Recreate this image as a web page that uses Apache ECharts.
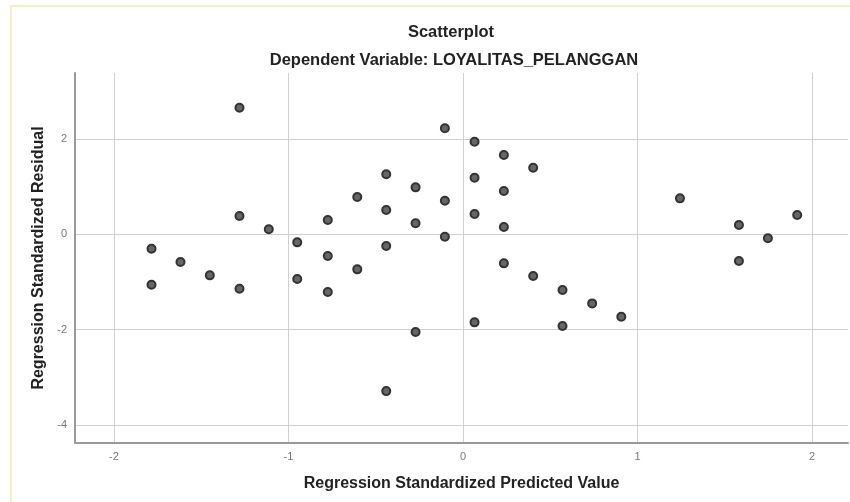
<!DOCTYPE html>
<html>
<head>
<meta charset="utf-8">
<script src="https://cdn.jsdelivr.net/npm/echarts@6/dist/echarts.min.js"></script>
<style>
html,body{margin:0;padding:0;background:#fff;}
#frame{position:absolute;left:10px;top:5px;width:850px;height:510px;border-left:2px solid #f6eec4;border-top:2px solid #f6eec4;box-sizing:border-box;}
#chart{position:absolute;left:0;top:0;width:850px;height:502px;}
</style>
</head>
<body>
<div id="frame"></div>
<div id="chart"></div>
<script>
const titleText = 'Scatterplot';
const subtitleText = 'Dependent Variable: LOYALITAS_PELANGGAN';
const xAxisName = 'Regression Standardized Predicted Value';
const yAxisName = 'Regression Standardized Residual';
const xTicks = [-2, -1, 0, 1, 2];
const yTicks = [-4, -2, 0, 2];
const predicted = [
  -1.785, -1.785, -1.619, -1.451, -1.281, -1.281, -1.281, -1.113,
  -0.950, -0.950,
  -0.775, -0.775, -0.775,
  -0.606, -0.606,
  -0.440, -0.440, -0.440, -0.440,
  -0.272, -0.272, -0.272,
  -0.104, -0.104, -0.104,
  0.066, 0.066, 0.066, 0.066,
  0.234, 0.234, 0.234, 0.234,
  0.402, 0.402,
  0.570, 0.570,
  0.740, 0.907,
  1.243, 1.581, 1.581, 1.747, 1.915
];
const residual = [
  -0.302, -1.057, -0.581, -0.861, 2.657, 0.384, -1.141, 0.105,
  -0.168, -0.938,
  0.300, -0.455, -1.211,
  0.783, -0.735,
  1.259, 0.510, -0.246, -3.289,
  0.986, 0.231, -2.050,
  2.225, 0.705, -0.050,
  1.944, 1.188, 0.426, -1.847,
  1.664, 0.909, 0.153, -0.609,
  1.398, -0.875,
  -1.169, -1.924,
  -1.449, -1.728,
  0.755, 0.195, -0.560, -0.084, 0.405
];
const points = predicted.map((x, i) => [x, residual[i]]);

const chart = echarts.init(document.getElementById('chart'), null, {renderer: 'canvas'});
const fontFam = '"Liberation Sans", Arial, sans-serif';
chart.setOption({
  animation: false,
  backgroundColor: 'transparent',
  title: [
    {text: titleText, left: 446, top: 19, textAlign: 'center',
     textStyle: {fontFamily: fontFam, fontSize: 16.5, fontWeight: 'bold', color: '#222'}},
    {text: subtitleText, left: 449, top: 47, textAlign: 'center',
     textStyle: {fontFamily: fontFam, fontSize: 16.5, fontWeight: 'bold', color: '#222'}}
  ],
  grid: {left: 75, top: 73, right: 2, bottom: 59, containLabel: false},
  xAxis: {
    type: 'value', min: -2.2235, max: 2.206,
    name: xAxisName, nameLocation: 'middle', nameGap: 33,
    nameTextStyle: {fontFamily: fontFam, fontSize: 16, fontWeight: 'bold', color: '#222'},
    axisLine: {show: true, onZero: false, lineStyle: {color: '#9a9a9a', width: 2}},
    axisTick: {show: false, customValues: xTicks},
    axisLabel: {customValues: xTicks, color: '#777', fontSize: 11, fontFamily: fontFam, margin: 8},
    splitLine: {show: true, lineStyle: {color: '#d0d0d0', width: 1}}
  },
  yAxis: {
    type: 'value', min: -4.378, max: 3.385,
    name: yAxisName, nameLocation: 'middle', nameGap: 28, nameRotate: 90,
    nameTextStyle: {fontFamily: fontFam, fontSize: 16, fontWeight: 'bold', color: '#222'},
    axisLine: {show: true, onZero: false, lineStyle: {color: '#9a9a9a', width: 2}},
    axisTick: {show: false, customValues: yTicks},
    axisLabel: {customValues: yTicks, color: '#777', fontSize: 11, fontFamily: fontFam, margin: 8},
    splitLine: {show: true, lineStyle: {color: '#d0d0d0', width: 1}}
  },
  series: [{
    type: 'scatter',
    data: points,
    symbol: 'circle',
    symbolSize: 8,
    itemStyle: {color: '#666', borderColor: '#333', borderWidth: 2, opacity: 1},
    emphasis: {disabled: true}
  }]
});
</script>
</body>
</html>
